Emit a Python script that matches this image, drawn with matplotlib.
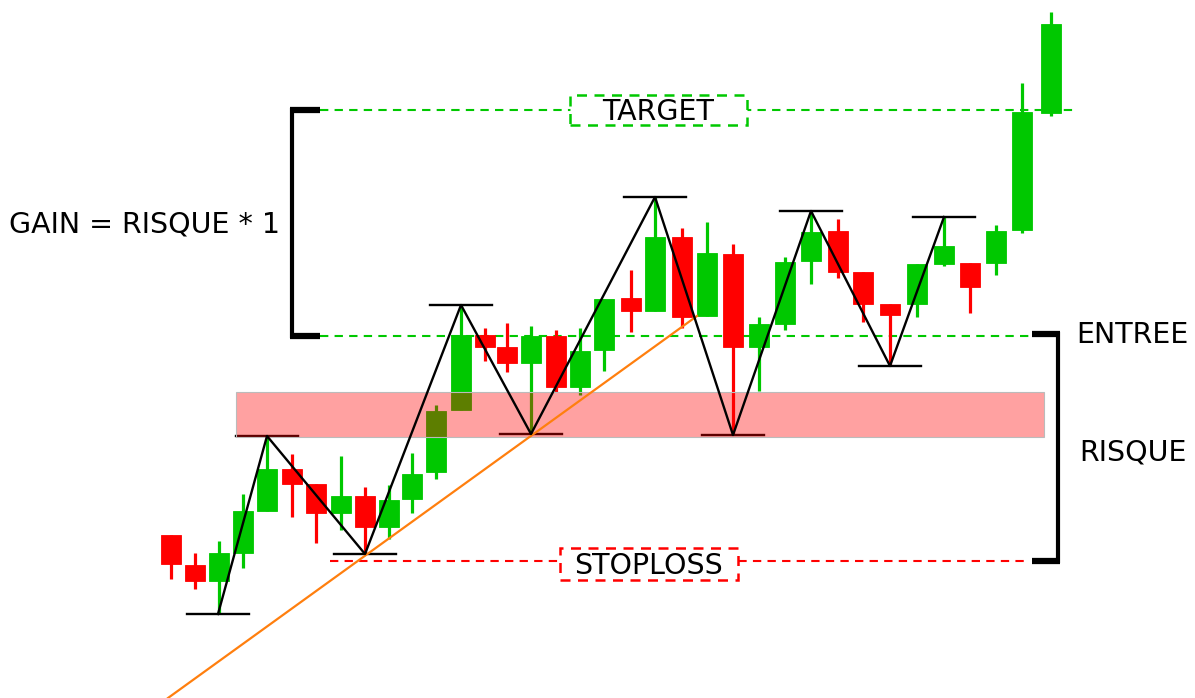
import matplotlib.pyplot as plt
from matplotlib.patches import Rectangle
import numpy as np

# candle data (time position, open, high, low, close)
t = [171, 195, 219, 243, 267, 292, 316, 341, 365, 389, 412, 436,
     461, 485, 507, 531, 556, 580, 604, 631, 655, 682, 707, 733,
     759, 785, 811, 838, 863, 890, 917, 944, 970, 996, 1022, 1051]
opens = [163, 133, 117, 145, 187, 229, 214, 185, 202, 171, 199, 226,
         288, 363, 351, 335, 362, 311, 348, 400, 387, 461, 382, 444,
         351, 374, 437, 467, 426, 394, 394, 434, 435, 435, 468, 585]
highs = [163, 145, 157, 204, 262, 244, 214, 242, 211, 213, 245, 293,
         393, 370, 375, 372, 368, 370, 399, 428, 501, 470, 476, 454,
         381, 441, 487, 479, 426, 394, 434, 481, 435, 473, 615, 686]
lows = [119, 109, 84, 130, 187, 181, 155, 168, 144, 159, 185, 219,
        288, 337, 326, 264, 306, 303, 327, 366, 387, 370, 382, 263,
        307, 368, 414, 420, 376, 332, 381, 432, 385, 423, 465, 582]
closes = [134, 117, 145, 187, 229, 214, 185, 202, 171, 198, 224, 287,
          363, 351, 335, 362, 311, 347, 399, 387, 461, 381, 445, 351,
          374, 436, 466, 426, 394, 383, 434, 452, 411, 467, 586, 674]

# swing points
piv_t = [218, 267, 365, 461, 531, 655, 733, 811, 890, 944]
piv_p = [84, 262, 144, 393, 264, 501, 263, 487, 332, 481]

target = 588
entree = 362
stoploss = 137
zone = (261, 306)
trend_t = [168, 697]
trend_p = [0, 382]

GREEN = '#00c800'
RED = '#ff0000'
FS = 20.5

fig = plt.figure(figsize=(11.95, 6.98), dpi=100)
ax = fig.add_axes([0, 0, 1, 1])
ax.set_xlim(0, 1195)
ax.set_ylim(0, 698)
ax.axis('off')

# candles
w = 20
for x, o, h, l, c in zip(t, opens, highs, lows, closes):
    col = GREEN if c >= o else RED
    ax.plot([x, x], [l, h], color=col, lw=2.3, solid_capstyle='butt', zorder=2)
    ax.add_patch(Rectangle((x - w / 2, min(o, c)), w, abs(c - o),
                           facecolor=col, edgecolor=col, lw=0.6, zorder=3))

# pivot bars sit under the zone
for x, p in zip(piv_t, piv_p):
    ax.plot([x - 31, x + 31], [p, p], color='black', lw=1.7, zorder=3.5)

# risk zone
ax.add_patch(Rectangle((236, zone[0]), 1044 - 236, zone[1] - zone[0],
                       facecolor=(1, 0, 0, 0.37), edgecolor='#bbbbbb', lw=0.8, zorder=4))

# trend line
ax.plot(trend_t, trend_p, color='#ff7f0e', lw=1.6, zorder=5)

# zigzag
ax.plot(piv_t, piv_p, color='black', lw=1.7, zorder=6)

# levels
dash = (0, (4, 3))
ax.plot([320, 1075], [target, target], color=GREEN, lw=1.5, ls=dash, zorder=1)
ax.plot([320, 1030], [entree, entree], color=GREEN, lw=1.5, ls=dash, zorder=1)
ax.plot([330, 1030], [stoploss, stoploss], color=RED, lw=1.5, ls=dash, zorder=1)

# label boxes
ax.add_patch(Rectangle((570, target - 15), 177, 30, facecolor='white',
                       edgecolor=GREEN, lw=1.8, ls=dash, zorder=7))
ax.text(658, target - 2, 'TARGET', fontsize=FS, ha='center', va='center', zorder=8)
ax.add_patch(Rectangle((560, stoploss - 19), 178, 32, facecolor='white',
                       edgecolor=RED, lw=1.8, ls=dash, zorder=7))
ax.text(649, stoploss - 5, 'STOPLOSS', fontsize=FS, ha='center', va='center', zorder=8)

# left bracket (gain)
ax.plot([292, 292], [target, entree], color='black', lw=3, zorder=6)
ax.plot([290, 320], [target, target], color='black', lw=4.5, solid_capstyle='butt', zorder=6)
ax.plot([290, 320], [entree, entree], color='black', lw=4.5, solid_capstyle='butt', zorder=6)
ax.text(9, 474, 'GAIN = RISQUE * 1', fontsize=FS, ha='left', va='center')

# right bracket (risk)
ax.plot([1058, 1058], [entree + 2, stoploss], color='black', lw=3, zorder=6)
ax.plot([1032, 1060], [entree + 2, entree + 2], color='black', lw=4.5, solid_capstyle='butt', zorder=6)
ax.plot([1032, 1060], [stoploss, stoploss], color='black', lw=4.5, solid_capstyle='butt', zorder=6)
ax.text(1076, 363, 'ENTREE', fontsize=FS, ha='left', va='center')
ax.text(1079, 245, 'RISQUE', fontsize=FS, ha='left', va='center')

fig.savefig('out.png', dpi=100)
